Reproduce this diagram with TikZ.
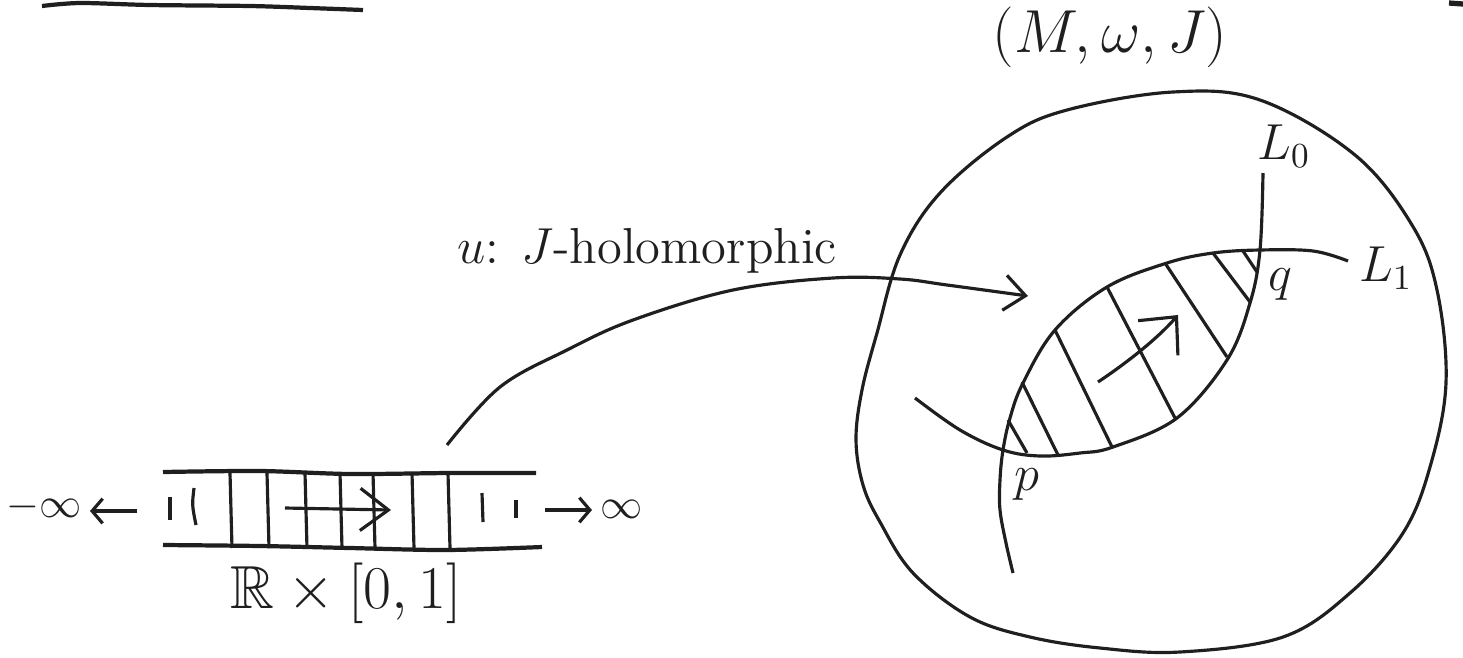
\documentclass[tikz,border=0pt]{standalone}
\usepackage{amssymb}
\usetikzlibrary{arrows.meta}
\definecolor{InkClr}{rgb}{0.12,0.12,0.12}

\begin{document}
\begin{tikzpicture}[x=0.01cm,y=-0.01cm,line width=0.9pt,color=InkClr,
  mapto/.style={-{Straight Barb[length=6pt,width=10pt]}},
  flowto/.style={-{Straight Barb[length=8pt,width=12pt]}},
  lensflow/.style={-{Straight Barb[length=8pt,width=15pt]}},
  endsto/.style={-{Straight Barb[length=3pt,width=7pt]}},
  ink/.style={line width=1.2pt}]
\useasboundingbox (0,0) rectangle (1463,657);

\draw[ink] plot[smooth] coordinates {(42,6) (80,3) (150,5) (250,6) (310,8) (363,10)};
\draw[line width=1.5pt] (1449,3) -- (1463,4);

\node (MwJ) at (1110,37) {\LARGE$(M,\omega,J)$};
\node[anchor=base] (hol) at (647,263) {\Large$u$: $J$-holomorphic};

\draw plot[smooth cycle,tension=0.6] coordinates {(1173,92) (1260,100) (1355,155) (1412,225) (1437,290) (1446,383) (1430,467) (1403,533) (1350,593) (1283,637) (1180,652) (1100,648) (1030,637) (970,617) (913,573) (880,522) (863,485) (856,440) (862,390) (877,333) (900,255) (940,193) (1007,137) (1067,110)};

\coordinate (P) at (1003,450);
\coordinate (Q) at (1260,250);

\draw plot[smooth,tension=0.6] coordinates {(915,398) (960,430) (P) (1040,456) (1080,453) (1113,447) (1177,418) (1227,360) (1250,303) (Q) (1263,173)};
\draw plot[smooth,tension=0.6] coordinates {(1013,573) (1006,543) (1000,510) (1000,480) (P) (1010,418) (1023,383) (1055,330) (1107,287) (1167,263) (1213,253) (Q) (1313,251) (1348,261)};

\foreach \a/\b/\c/\d in {1008/420/1027/453, 1022/382/1058/455, 1055/330/1112/447, 1107/287/1175/418, 1165/263/1227/357, 1213/253/1250/302, 1243/251/1257/272}
  \draw (\a,\b) -- (\c,\d);

\coordinate (fa) at (1098,382);
\coordinate (fb) at (1178,315);
\draw[lensflow] (fa) .. controls (1128,362) and (1158,338) .. (fb);

\node (plbl) at (1027,485) {\Large$p$};
\node (qlbl) at (1280,285) {\Large$q$};
\node (L0) at (1284,146) {\Large$L_0$};
\node (L1) at (1386,268) {\Large$L_1$};

\coordinate (ustart) at (447,445);
\coordinate (uend) at (1028,296);
\draw[mapto] plot[smooth,tension=0.6] coordinates {(ustart) (500,387) (567,350) (633,320) (733,290) (833,278) (900,279) (947,285) (uend)};

\draw[ink] plot[smooth] coordinates {(163,472) (260,471) (350,474) (450,473) (536,473)};
\draw[ink] plot[smooth] coordinates {(163,545) (260,546) (350,548) (446,550) (542,547)};
\foreach \x in {230,267,305,340,373,412,448}
  \draw (\x,473) -- (\x+2,548);
\draw (170,497) -- (170,520);
\draw (194,488) .. controls (192,505) .. (196,525);
\draw (482,493) -- (483,522);
\draw (516,500) -- (516,518);

\coordinate (sa) at (285,508);
\coordinate (sb) at (391,510);
\draw[flowto] (sa) -- (sb);

\node[inner sep=2pt,anchor=east] (minf) at (90,507) {\large$-\infty$};
\node[inner sep=2pt,anchor=west] (pinf) at (592,509) {\large$\infty$};
\coordinate (lgo) at (137,511);
\coordinate (rgo) at (545,510);
\draw[endsto] (lgo) -- (lgo -| minf.east);
\draw[endsto] (rgo) -- (rgo -| pinf.west);

\node (strip) at (346,593) {\LARGE$\mathbb{R}\times[0,1]$};
\end{tikzpicture}
\end{document}
